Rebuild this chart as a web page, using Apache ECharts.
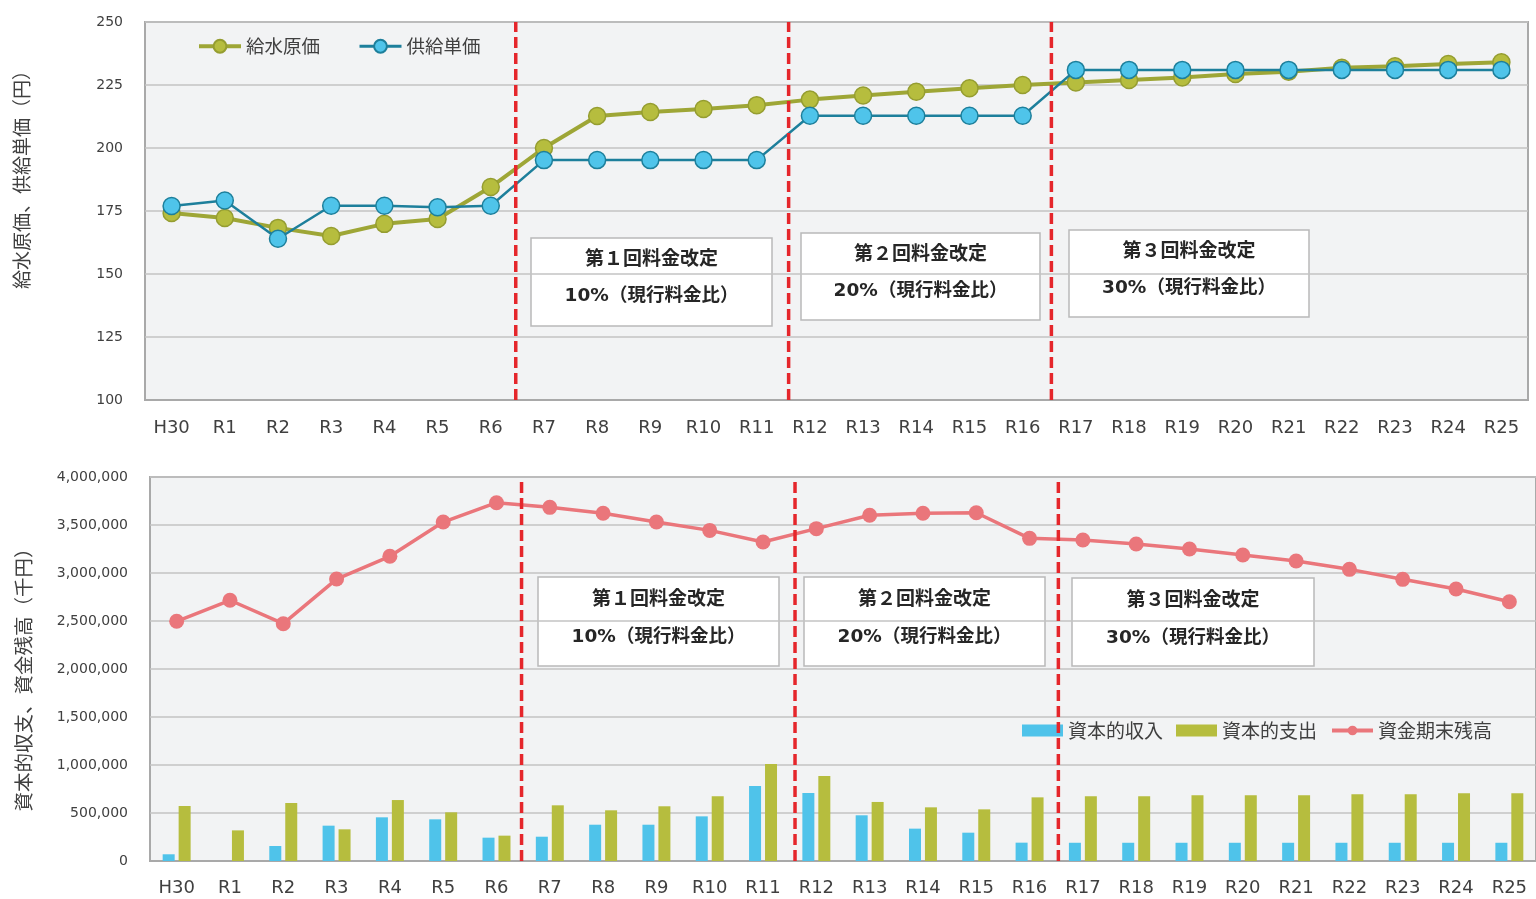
<!DOCTYPE html>
<html>
<head>
<meta charset="utf-8">
<script src="https://cdn.jsdelivr.net/npm/echarts@6/dist/echarts.min.js"></script>
<style>
  html, body { margin: 0; padding: 0; background: #ffffff; }
  #chart { width: 1536px; height: 899px; }
</style>
</head>
<body>
<div id="chart"></div>
<script>
// Fiscal years
const categories = ['H30','R1','R2','R3','R4','R5','R6','R7','R8','R9','R10','R11','R12',
  'R13','R14','R15','R16','R17','R18','R19','R20','R21','R22','R23','R24','R25'];

// 給水原価 (円)
const supplyCost = [174.2, 172.2, 168.3, 165.1, 169.9, 171.8, 184.5, 200.0, 212.7, 214.3,
  215.5, 217.0, 219.2, 220.8, 222.3, 223.7, 225.0, 226.0, 227.0, 228.0, 229.4, 230.3,
  231.8, 232.4, 233.3, 234.0];

// 供給単価 (円)
const supplyPrice = [177.0, 179.2, 164.0, 177.1, 177.1, 176.5, 177.1, 195.2, 195.2, 195.2,
  195.2, 195.2, 212.8, 212.8, 212.8, 212.8, 212.8, 231.0, 231.0, 231.0, 231.0, 231.0,
  231.0, 231.0, 231.0, 231.0];

// 資本的収入 (千円)
const capitalIncome = [70000, 0, 156000, 368000, 455000, 434000, 243000, 253000, 378000,
  378000, 465000, 781000, 708000, 476000, 337000, 295000, 191000, 190000, 190000, 190000,
  190000, 190000, 190000, 190000, 190000, 190000];

// 資本的支出 (千円)
const capitalExpense = [573000, 319000, 604000, 330000, 635000, 507000, 264000, 580000,
  528000, 570000, 674000, 1010000, 885000, 615000, 559000, 538000, 663000, 674000, 674000,
  684000, 684000, 684000, 695000, 695000, 705000, 705000];

// 資金期末残高 (千円)
const fundBalance = [2497000, 2716000, 2472000, 2937000, 3174000, 3531000, 3732000, 3684000,
  3622000, 3531000, 3444000, 3323000, 3462000, 3601000, 3622000, 3628000, 3361000, 3344000,
  3302000, 3250000, 3188000, 3125000, 3038000, 2934000, 2833000, 2701000];

// Where each rate revision starts, in category units from the left edge of the axis
const revisionPositions = [6.97, 12.1, 17.04];

// Revision notes
const revisionTitles = ['第１回料金改定', '第２回料金改定', '第３回料金改定'];
const revisionRates = ['10%（現行料金比）', '20%（現行料金比）', '30%（現行料金比）'];

// Axis ranges
const priceAxis = { min: 100, max: 250, interval: 25 };
const moneyAxis = { min: 0, max: 4000000, interval: 500000 };

const chart = echarts.init(document.getElementById('chart'), null, { renderer: 'canvas' });

const textColor = '#404040';
const tickFont = 'DejaVu Sans';
const jpFont = '"Noto Sans CJK JP", sans-serif';
const borderGray = '#a9a9a9';
const gridGray = '#c3c3c3';
const plotBg = '#f2f3f4';
const red = '#e5262b';

function categoryAxis(gridIndex, margin) {
  return {
    type: 'category', gridIndex, data: categories, boundaryGap: true,
    axisLine: { lineStyle: { color: borderGray, width: 2 } },
    axisTick: { inside: true, length: 5, lineStyle: { color: borderGray, width: 1.5 } },
    axisLabel: { color: textColor, fontFamily: tickFont, fontSize: 18, margin, interval: 0 }
  };
}

function valueAxis(gridIndex, range, formatter) {
  return {
    type: 'value', gridIndex, min: range.min, max: range.max, interval: range.interval,
    axisLine: { show: false }, axisTick: { show: false },
    splitLine: { lineStyle: { color: gridGray, width: 1.5 } },
    axisLabel: { color: textColor, fontFamily: tickFont, fontSize: 14, margin: 22, formatter }
  };
}

function hiddenAxis(gridIndex) {
  return { type: 'value', gridIndex, min: 0, max: categories.length, show: false };
}

// Dashed red separators between revision periods
function separatorSeries(xAxisIndex, yAxisIndex, range) {
  return revisionPositions.map((p, i) => ({
    name: 'sep' + xAxisIndex + '_' + i, type: 'line', xAxisIndex, yAxisIndex,
    data: [[p, range.min], [p, range.max]], symbol: 'none', silent: true, z: 10,
    lineStyle: { color: red, width: 3.5, type: [11, 5] }
  }));
}

function noteBox(x, y, w, h, title, rate, dy1, dy2) {
  const cx = x + w / 2;
  return {
    type: 'group', z: 20, children: [
      { type: 'rect', shape: { x, y, width: w, height: h },
        style: { fill: '#ffffff', stroke: '#b9b9b9', lineWidth: 1.5 } },
      { type: 'text', x: cx, y: y + dy1,
        style: { text: title, fill: '#262626', font: 'bold 19px ' + jpFont,
          align: 'center', verticalAlign: 'middle' } },
      { type: 'text', x: cx, y: y + dy2,
        style: { text: rate, fill: '#262626', font: 'bold 18.5px "DejaVu Sans", ' + jpFont,
          align: 'center', verticalAlign: 'middle' } }
    ]
  };
}

const topBoxes = [[531, 238, 241, 88], [801, 233, 239, 87], [1069, 230, 240, 87]];
const bottomBoxes = [[538, 577, 241, 89], [804, 577, 241, 89], [1072, 578, 242, 88]];

const graphics = [];
topBoxes.forEach((b, i) => graphics.push(noteBox(b[0], b[1], b[2], b[3], revisionTitles[i], revisionRates[i], 20, 58)));
bottomBoxes.forEach((b, i) => graphics.push(noteBox(b[0], b[1], b[2], b[3], revisionTitles[i], revisionRates[i], 21, 60)));
graphics.push({
  type: 'text', x: 22, y: 175, rotation: Math.PI / 2,
  style: { text: '給水原価、供給単価（円）', fill: textColor, font: '19px ' + jpFont,
    align: 'center', verticalAlign: 'middle' }
});
graphics.push({
  type: 'text', x: 24, y: 675, rotation: Math.PI / 2,
  style: { text: '資本的収支、資金残高（千円）', fill: textColor, font: '19.5px ' + jpFont,
    align: 'center', verticalAlign: 'middle' }
});

const option = {
  animation: false,
  backgroundColor: '#ffffff',
  grid: [
    { left: 145, top: 22, width: 1383, height: 378, show: true, backgroundColor: plotBg,
      borderColor: borderGray, borderWidth: 2 },
    { left: 150, top: 477, width: 1386, height: 384, show: true, backgroundColor: plotBg,
      borderColor: borderGray, borderWidth: 2 }
  ],
  xAxis: [
    categoryAxis(0, 19),
    categoryAxis(1, 18),
    hiddenAxis(0),
    hiddenAxis(1)
  ],
  yAxis: [
    valueAxis(0, priceAxis),
    valueAxis(1, moneyAxis, v => v.toLocaleString('en-US'))
  ],
  legend: [
    { data: [
        { name: '給水原価', lineStyle: { width: 4 } },
        { name: '供給単価', lineStyle: { width: 3 } }
      ],
      left: 197, top: 37, padding: 0, itemWidth: 42, itemHeight: 16,
      itemGap: 38, textStyle: { color: textColor, fontFamily: jpFont, fontSize: 18.5 } },
    { data: [{ name: '資本的収入', icon: 'rect' }, { name: '資本的支出', icon: 'rect' },
        { name: '資金期末残高', lineStyle: { width: 4 } }],
      left: 1022, top: 721, padding: 0, itemWidth: 41, itemHeight: 12, itemGap: 13,
      textStyle: { color: textColor, fontFamily: jpFont, fontSize: 19 } }
  ],
  graphic: graphics,
  series: [
    { name: '給水原価', type: 'line', xAxisIndex: 0, yAxisIndex: 0, data: supplyCost,
      symbol: 'circle', symbolSize: 17, z: 3,
      lineStyle: { color: '#9ea636', width: 4 },
      itemStyle: { color: '#b6bd3e', borderColor: '#959d30', borderWidth: 1.5 } },
    { name: '供給単価', type: 'line', xAxisIndex: 0, yAxisIndex: 0, data: supplyPrice,
      symbol: 'circle', symbolSize: 17, z: 4,
      lineStyle: { color: '#1d7f9b', width: 2.5 },
      itemStyle: { color: '#4fc4ea', borderColor: '#1d7f9b', borderWidth: 1.5 } },
    { name: '資本的収入', type: 'bar', xAxisIndex: 1, yAxisIndex: 1, data: capitalIncome,
      barWidth: 12, barGap: '33%', itemStyle: { color: '#4fc3ea' } },
    { name: '資本的支出', type: 'bar', xAxisIndex: 1, yAxisIndex: 1, data: capitalExpense,
      barWidth: 12, barGap: '33%', itemStyle: { color: '#b6bd3e' } },
    { name: '資金期末残高', type: 'line', xAxisIndex: 1, yAxisIndex: 1, data: fundBalance,
      symbol: 'circle', symbolSize: 15, z: 4,
      lineStyle: { color: '#ea767b', width: 3.5 },
      itemStyle: { color: '#ea767b' } },
    ...separatorSeries(2, 0, priceAxis),
    ...separatorSeries(3, 1, moneyAxis)
  ]
};

chart.setOption(option);
</script>
</body>
</html>
